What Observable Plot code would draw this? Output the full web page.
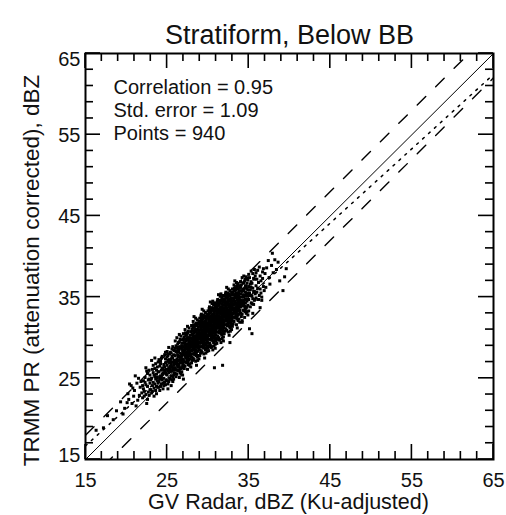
<!DOCTYPE html>
<html><head><meta charset="utf-8">
<script src="https://cdn.jsdelivr.net/npm/d3@7"></script>
<script src="https://cdn.jsdelivr.net/npm/@observablehq/plot@0.6"></script>
<style>
html,body{margin:0;padding:0;background:#fff}
svg{font-family:"Liberation Sans",Arial,Helvetica,sans-serif}
</style>
</head><body><div id="chart"></div>
<script>
const title = "Stratiform, Below BB";
const xLabel = "GV Radar, dBZ (Ku-adjusted)";
const yLabel = "TRMM PR (attenuation corrected), dBZ";
const stats = ["Correlation = 0.95", "Std. error = 1.09", "Points = 940"];
const axisDomain = [15, 65];
const majorTicks = [15, 25, 35, 45, 55, 65];
const minorTicks = [17,19,21,23,27,29,31,33,37,39,41,43,47,49,51,53,57,59,61,63];
const lineEnds = [15, 65];
const dashedOffsets = [3, -3];
const regression = {slope: 0.915, intercept: 2.95};

const tailPts = [[17.7,20.4],[18.8,21.0],[19.8,21.3],[19.3,22.1],[20.2,23.1],[20.6,24.1],[18.4,19.9],[19.6,20.6],[17.2,18.9],[16.3,18.6],
[20.3,22.4],[20.9,22.8],[21.4,22.3],[21.0,23.5],[21.7,23.9],[22.0,22.6],[21.2,21.6],[20.7,21.9],[21.8,24.6],[21.5,25.0],[20.4,24.3],[21.9,23.2],[21.3,24.4],[20.8,23.8],[22.0,24.1],[21.6,22.9],[20.1,22.0],[21.1,25.3]];
const pts22 = [[22.5,21.9],[22.2,23.4],[22.4,24.2],[22.7,24.8],[22.9,23.6],[22.3,25.1],[22.6,25.6],[22.8,22.9],[22.1,24.7],[22.4,23.0],[22.9,25.4],[22.6,24.0],[22.2,22.8],[22.7,23.3],[22.8,26.0],[22.3,24.5],[22.5,25.9],[22.9,24.4],[22.1,23.7],[22.6,22.4],[22.4,26.3],[22.8,24.9],
[23.1,23.2],[23.3,24.5],[23.5,25.2],[23.7,24.0],[23.9,25.8],[23.2,26.1],[23.4,22.8],[23.6,23.5],[23.8,26.4],[23.0,24.8],[23.5,24.3],[23.9,23.9],[23.3,25.7],[23.7,25.5],[23.1,25.0],[23.6,26.8],[23.8,24.7],[23.4,23.8],[23.2,24.1],[23.9,27.0],[23.5,26.2],[23.7,23.1],[23.0,23.6],[23.6,24.9],[23.3,26.6],[23.8,25.1],[23.1,27.2],[23.9,24.4],[23.4,25.4],[23.7,26.0],[23.2,23.4],[23.5,27.5]];
const pts24 = [[24.0,24.6],[24.2,25.3],[24.5,23.7],[24.8,24.2],[24.3,26.0],[24.6,26.7],[24.9,25.5],[24.1,23.5],[24.4,24.8],[24.7,25.9],[24.2,27.1],[24.5,26.3],[24.8,27.4],[24.0,25.8],[24.3,24.3],[24.6,25.0],[24.9,26.1],[24.1,26.5],[24.4,27.7],[24.7,24.5],[24.2,24.0],[24.5,25.6],[24.8,26.9],[24.0,27.3],[24.3,25.1],[24.6,24.1],[24.9,24.8],[24.1,25.2],[24.4,26.2],[24.7,27.9],[24.2,26.8],[24.5,24.4],[24.8,25.7],[24.3,27.5],[24.6,26.0],[24.9,27.0],[24.0,23.9],[24.4,25.5],[24.7,26.4],[24.1,24.9],[25.1,23.7],[24.8,28.2],
[25.0,25.4],[25.2,26.3],[25.4,27.1],[25.6,24.8],[25.8,26.0],[25.1,27.8],[25.3,25.0],[25.5,26.7],[25.7,27.5],[25.9,25.6],[25.0,26.6],[25.2,24.6],[25.4,25.8],[25.6,26.4],[25.8,27.9],[25.1,25.9],[25.3,27.3],[25.5,28.1],[25.7,25.2],[25.9,26.8],[25.0,28.3],[25.2,27.0],[25.4,24.9],[25.6,27.7],[25.8,25.4],[25.1,26.1],[25.3,26.9],[25.5,25.3],[25.7,26.2],[25.9,28.4],[25.0,24.7],[25.2,25.7],[25.4,26.5],[25.6,28.6],[25.8,26.6],[25.1,24.3],[25.3,28.0],[25.5,27.4],[25.7,24.6],[25.9,27.2],[25.0,27.6],[25.2,28.8],[25.4,28.2],[25.6,25.9],[25.8,24.9],[25.3,26.0],[25.5,24.1],[25.7,28.9],[25.9,26.3],[25.1,27.2],[25.4,26.2],[25.6,27.0],[25.8,28.5],[25.2,26.0],[25.7,27.0]];
const pts26 = [[26.0,26.2],[26.2,27.4],[26.4,28.3],[26.6,25.7],[26.8,27.0],[26.1,29.0],[26.3,26.0],[26.5,27.7],[26.7,28.8],[26.9,26.5],[26.0,27.8],[26.2,25.5],[26.4,26.7],[26.6,27.3],[26.8,29.3],[26.1,26.8],[26.3,28.5],[26.5,29.5],[26.7,26.2],[26.9,28.0],[26.0,29.6],[26.2,28.2],[26.4,25.9],[26.6,28.9],[26.8,26.3],[26.1,27.1],[26.3,27.9],[26.5,26.4],[26.7,27.2],[26.9,29.7],[26.0,25.6],[26.2,26.6],[26.4,27.6],[26.6,29.8],[26.8,27.7],[26.1,25.2],[26.3,29.2],[26.5,28.6],[26.7,25.5],[26.9,28.4],[26.0,28.7],[26.2,30.0],[26.4,29.4],[26.6,26.9],[26.8,25.8],[26.3,27.1],[26.5,25.1],[26.7,30.2],[26.9,27.3],[26.1,28.3],[26.4,27.2],[26.6,28.1],[26.8,28.6],[26.2,27.0],[26.7,28.0],[26.5,26.0],[26.9,25.4],[26.0,27.0],[26.3,26.4],[26.6,26.2],[26.8,29.0],[26.4,28.8],[26.1,26.0],[26.7,27.6],[26.2,28.8],[26.9,26.9],[27.0,24.9],[26.5,30.4],
[27.0,27.3],[27.2,28.5],[27.4,29.2],[27.6,26.7],[27.8,28.1],[27.1,30.1],[27.3,27.0],[27.5,28.8],[27.7,29.9],[27.9,27.6],[27.0,28.9],[27.2,26.5],[27.4,27.8],[27.6,28.4],[27.8,30.3],[27.1,27.9],[27.3,29.6],[27.5,30.6],[27.7,27.3],[27.9,29.1],[27.0,30.5],[27.2,29.3],[27.4,26.9],[27.6,30.0],[27.8,27.4],[27.1,28.2],[27.3,28.9],[27.5,27.5],[27.7,28.3],[27.9,30.7],[27.0,26.6],[27.2,27.7],[27.4,28.6],[27.6,30.8],[27.8,28.8],[27.1,26.2],[27.3,30.3],[27.5,29.7],[27.7,26.6],[27.9,29.5],[27.0,29.8],[27.2,31.0],[27.4,30.4],[27.6,27.9],[27.8,26.8],[27.3,28.1],[27.5,26.1],[27.7,31.2],[27.9,28.4],[27.1,29.4],[27.4,28.2],[27.6,29.2],[27.8,29.6],[27.2,28.0],[27.7,29.0],[27.5,27.0],[27.9,26.4],[27.0,28.1],[27.3,27.5],[27.6,27.2],[27.8,30.0],[27.4,29.8],[27.1,27.0],[27.7,28.6],[27.2,29.8],[27.9,27.9],[27.5,31.4],[27.05,28.5],[27.35,29.0],[27.65,29.5],[27.95,28.9],[27.15,28.7],[27.45,27.3],[27.75,27.8],[27.25,30.6],[27.55,28.4],[27.85,29.3],[27.45,30.0],[27.65,28.0],[27.15,29.1]];
const pts28 = [[28.0,28.4],[28.2,29.6],[28.4,30.2],[28.6,27.8],[28.8,29.1],[28.1,31.1],[28.3,28.0],[28.5,29.8],[28.7,30.9],[28.9,28.6],[28.0,29.9],[28.2,27.5],[28.4,28.8],[28.6,29.4],[28.8,31.3],[28.1,28.9],[28.3,30.6],[28.5,31.6],[28.7,28.3],[28.9,30.1],[28.0,31.5],[28.2,30.3],[28.4,27.9],[28.6,31.0],[28.8,28.4],[28.1,29.2],[28.3,29.9],[28.5,28.5],[28.7,29.3],[28.9,31.7],[28.0,27.6],[28.2,28.7],[28.4,29.6],[28.6,31.8],[28.8,29.8],[28.1,27.2],[28.3,31.3],[28.5,30.7],[28.7,27.6],[28.9,30.5],[28.0,30.8],[28.2,32.0],[28.4,31.4],[28.6,28.9],[28.8,27.8],[28.3,29.1],[28.5,27.1],[28.7,32.2],[28.9,29.4],[28.1,30.4],[28.4,29.2],[28.6,30.2],[28.8,30.6],[28.2,29.0],[28.7,30.0],[28.5,28.0],[28.9,27.4],[28.0,29.1],[28.3,28.5],[28.6,28.2],[28.8,31.0],[28.4,30.8],[28.1,28.0],[28.7,29.6],[28.2,30.8],[28.9,28.9],[28.5,32.4],[28.05,29.5],[28.35,30.0],[28.65,30.5],[28.95,29.9],[28.15,29.7],[28.45,28.3],[28.75,28.8],[28.25,31.6],[28.55,29.4],[28.85,30.3],[28.45,31.0],[28.65,29.0],[28.15,30.1],[28.0,26.9],[28.6,26.6],[28.3,32.6],[28.9,32.0],[28.5,29.2],[28.8,29.5],[28.2,31.3],[28.4,28.1],[28.7,31.5],[28.1,28.5],[28.6,29.7],[28.9,30.8],[28.3,27.3],[28.55,30.2],[28.75,27.2],[28.25,29.3],
[29.0,29.3],[29.2,30.5],[29.4,31.3],[29.6,28.7],[29.8,30.0],[29.1,32.0],[29.3,28.9],[29.5,30.7],[29.7,31.8],[29.9,29.5],[29.0,30.9],[29.2,28.4],[29.4,29.7],[29.6,30.3],[29.8,32.2],[29.1,29.8],[29.3,31.5],[29.5,32.5],[29.7,29.2],[29.9,31.0],[29.0,32.4],[29.2,31.2],[29.4,28.8],[29.6,31.9],[29.8,29.3],[29.1,30.1],[29.3,30.8],[29.5,29.4],[29.7,30.2],[29.9,32.6],[29.0,28.5],[29.2,29.6],[29.4,30.5],[29.6,32.7],[29.8,30.7],[29.1,28.1],[29.3,32.2],[29.5,31.6],[29.7,28.5],[29.9,31.4],[29.0,31.7],[29.2,32.9],[29.4,32.3],[29.6,29.8],[29.8,28.7],[29.3,30.0],[29.5,28.0],[29.7,33.1],[29.9,30.3],[29.1,31.3],[29.4,30.1],[29.6,31.1],[29.8,31.5],[29.2,29.9],[29.7,30.9],[29.5,28.9],[29.9,28.3],[29.0,30.0],[29.3,29.4],[29.6,29.1],[29.8,31.9],[29.4,31.7],[29.1,28.9],[29.7,30.5],[29.2,31.7],[29.9,29.8],[29.5,33.3],[29.05,30.4],[29.35,30.9],[29.65,31.4],[29.95,30.8],[29.15,30.6],[29.45,29.2],[29.75,29.7],[29.25,32.5],[29.55,30.3],[29.85,31.2],[29.45,31.9],[29.65,29.9],[29.15,31.0],[29.0,27.8],[29.6,27.5],[29.3,33.5],[29.9,32.9],[29.5,30.1],[29.8,30.4],[29.2,32.2],[29.4,29.0],[29.7,32.4],[29.1,29.4],[29.6,30.6],[29.9,31.7],[29.3,28.2],[29.55,31.1],[29.75,28.1],[29.25,30.2],[29.05,31.5],[29.85,29.0],[29.45,32.8],[29.65,32.0],[29.35,29.6],[29.15,32.7],[29.95,30.1],[29.55,29.5],[29.75,31.3]];
const pts30 = [[30.0,30.2],[30.2,31.4],[30.4,32.2],[30.6,29.6],[30.8,30.9],[30.1,32.9],[30.3,29.8],[30.5,31.6],[30.7,32.7],[30.9,30.4],[30.0,31.8],[30.2,29.3],[30.4,30.6],[30.6,31.2],[30.8,33.1],[30.1,30.7],[30.3,32.4],[30.5,33.4],[30.7,30.1],[30.9,31.9],[30.0,33.3],[30.2,32.1],[30.4,29.7],[30.6,32.8],[30.8,30.2],[30.1,31.0],[30.3,31.7],[30.5,30.3],[30.7,31.1],[30.9,33.5],[30.0,29.4],[30.2,30.5],[30.4,31.4],[30.6,33.6],[30.8,31.6],[30.1,29.0],[30.3,33.1],[30.5,32.5],[30.7,29.4],[30.9,32.3],[30.0,32.6],[30.2,33.8],[30.4,33.2],[30.6,30.7],[30.8,29.6],[30.3,30.9],[30.5,28.9],[30.7,34.0],[30.9,31.2],[30.1,32.2],[30.4,31.0],[30.6,32.0],[30.8,32.4],[30.2,30.8],[30.7,31.8],[30.5,29.8],[30.9,29.2],[30.0,30.9],[30.3,30.3],[30.6,30.0],[30.8,32.8],[30.4,32.6],[30.1,29.8],[30.7,31.4],[30.2,32.6],[30.9,30.7],[30.5,34.2],[30.05,31.3],[30.35,31.8],[30.65,32.3],[30.95,31.7],[30.15,31.5],[30.45,30.1],[30.75,30.6],[30.25,33.4],[30.55,31.2],[30.85,32.1],[30.45,32.8],[30.65,30.8],[30.15,31.9],[30.0,28.7],[30.6,28.5],[30.3,34.4],[30.9,33.8],[30.5,31.0],[30.8,31.3],[30.2,33.1],[30.4,29.9],[30.7,33.3],[30.1,30.3],[30.6,31.5],[30.9,32.6],[30.3,29.1],[30.55,32.0],[30.75,29.0],[30.25,31.1],[30.05,32.4],[30.85,29.9],[30.45,33.7],[30.65,32.9],[30.35,30.5],[30.15,33.6],[30.95,31.0],[30.55,30.4],[30.75,32.2],[30.1,28.4],[30.8,34.3],[30.4,28.8],[30.6,34.5],[30.2,28.9],[30.9,28.7],
[31.0,31.1],[31.2,32.3],[31.4,33.1],[31.6,30.5],[31.8,31.8],[31.1,33.8],[31.3,30.7],[31.5,32.5],[31.7,33.6],[31.9,31.3],[31.0,32.7],[31.2,30.2],[31.4,31.5],[31.6,32.1],[31.8,34.0],[31.1,31.6],[31.3,33.3],[31.5,34.3],[31.7,31.0],[31.9,32.8],[31.0,34.2],[31.2,33.0],[31.4,30.6],[31.6,33.7],[31.8,31.1],[31.1,31.9],[31.3,32.6],[31.5,31.2],[31.7,32.0],[31.9,34.4],[31.0,30.3],[31.2,31.4],[31.4,32.3],[31.6,34.5],[31.8,32.5],[31.1,29.9],[31.3,34.0],[31.5,33.4],[31.7,30.3],[31.9,33.2],[31.0,33.5],[31.2,34.7],[31.4,34.1],[31.6,31.6],[31.8,30.5],[31.3,31.8],[31.5,29.8],[31.7,34.9],[31.9,32.1],[31.1,33.1],[31.4,31.9],[31.6,32.9],[31.8,33.3],[31.2,31.7],[31.7,32.7],[31.5,30.7],[31.9,30.1],[31.0,31.8],[31.3,31.2],[31.6,30.9],[31.8,33.7],[31.4,33.5],[31.1,30.7],[31.7,32.3],[31.2,33.5],[31.9,31.6],[31.5,35.1],[31.05,32.2],[31.35,32.7],[31.65,33.2],[31.95,32.6],[31.15,32.4],[31.45,31.0],[31.75,31.5],[31.25,34.3],[31.55,32.1],[31.85,33.0],[31.45,33.7],[31.65,31.7],[31.15,32.8],[31.0,29.6],[31.6,29.4],[31.3,35.3],[31.9,34.7],[31.5,31.9],[31.8,32.2],[31.2,34.0],[31.4,30.8],[31.7,34.2],[31.1,31.2],[31.6,32.4],[31.9,33.5],[31.3,30.0],[31.55,32.9],[31.75,29.9],[31.25,32.0],[31.05,33.3],[31.85,30.8],[31.45,34.6],[31.65,33.8],[31.35,31.4],[31.15,34.5],[31.95,31.9],[31.55,31.3],[31.75,33.1],[31.1,29.3],[31.8,35.2],[31.4,29.7],[31.6,35.4],[31.2,29.8],[31.9,29.6],[31.8,26.6],[30.8,26.3]];
const pts32 = [[32.0,32.0],[32.2,33.2],[32.4,34.0],[32.6,31.4],[32.8,32.7],[32.1,34.7],[32.3,31.6],[32.5,33.4],[32.7,34.5],[32.9,32.2],[32.0,33.6],[32.2,31.1],[32.4,32.4],[32.6,33.0],[32.8,34.9],[32.1,32.5],[32.3,34.2],[32.5,35.2],[32.7,31.9],[32.9,33.7],[32.0,35.1],[32.2,33.9],[32.4,31.5],[32.6,34.6],[32.8,32.0],[32.1,32.8],[32.3,33.5],[32.5,32.1],[32.7,32.9],[32.9,35.3],[32.0,31.2],[32.2,32.3],[32.4,33.2],[32.6,35.4],[32.8,33.4],[32.1,30.8],[32.3,34.9],[32.5,34.3],[32.7,31.2],[32.9,34.1],[32.0,34.4],[32.2,35.6],[32.4,35.0],[32.6,32.5],[32.8,31.4],[32.3,32.7],[32.5,30.7],[32.7,35.8],[32.9,33.0],[32.1,34.0],[32.4,32.8],[32.6,33.8],[32.8,34.2],[32.2,32.6],[32.7,33.6],[32.5,31.6],[32.9,31.0],[32.0,32.7],[32.3,32.1],[32.6,31.8],[32.8,34.6],[32.4,34.4],[32.1,31.6],[32.7,33.2],[32.2,34.4],[32.9,32.5],[32.5,36.0],[32.05,33.1],[32.35,33.6],[32.65,34.1],[32.95,33.5],[32.15,33.3],[32.45,31.9],[32.75,32.4],[32.25,35.2],[32.55,33.0],[32.85,33.9],[32.45,34.6],[32.65,32.6],[32.15,33.7],[32.0,30.5],[32.6,30.3],[32.3,36.2],[32.9,35.6],[32.5,32.8],[32.8,33.1],[32.2,34.9],[32.4,31.7],[32.7,35.1],[32.1,32.1],[32.6,33.3],[32.9,34.4],[32.3,30.9],[32.55,33.8],[32.75,30.8],[32.25,32.9],[32.05,34.2],[32.85,31.7],[32.45,35.5],[32.65,34.7],[32.35,32.3],[32.15,35.4],[32.95,32.8],[32.55,32.2],[32.75,34.0],[32.7,29.4],
[33.0,32.9],[33.2,34.1],[33.4,34.9],[33.6,32.3],[33.8,33.6],[33.1,35.6],[33.3,32.5],[33.5,34.3],[33.7,35.4],[33.9,33.1],[33.0,34.5],[33.2,32.0],[33.4,33.3],[33.6,33.9],[33.8,35.8],[33.1,33.4],[33.3,35.1],[33.5,36.1],[33.7,32.8],[33.9,34.6],[33.0,36.0],[33.2,34.8],[33.4,32.4],[33.6,35.5],[33.8,32.9],[33.1,33.7],[33.3,34.4],[33.5,33.0],[33.7,33.8],[33.9,36.2],[33.0,32.1],[33.2,33.2],[33.4,34.1],[33.6,36.3],[33.8,34.3],[33.1,31.7],[33.3,35.8],[33.5,35.2],[33.7,32.1],[33.9,35.0],[33.0,35.3],[33.2,36.5],[33.4,35.9],[33.6,33.4],[33.8,32.3],[33.3,33.6],[33.5,31.6],[33.7,36.6],[33.9,33.9],[33.1,34.9],[33.4,33.7],[33.6,34.7],[33.8,35.1],[33.2,33.5],[33.7,34.5],[33.5,32.5],[33.9,31.9],[33.0,33.6],[33.3,33.0],[33.6,32.7],[33.8,35.5],[33.4,35.3],[33.1,32.5],[33.7,34.1],[33.2,35.3],[33.9,33.4],[33.5,36.8],[33.05,34.0],[33.35,34.5],[33.65,35.0],[33.95,34.4],[33.15,34.2],[33.45,32.8],[33.75,33.3],[33.25,36.1],[33.55,33.9],[33.85,34.8],[33.45,35.5],[33.65,33.5],[33.15,34.6],[33.0,31.4],[33.6,31.2],[33.3,37.0],[33.9,36.4],[33.5,33.7],[33.8,34.0],[33.2,35.8],[33.4,32.6],[33.7,36.0],[33.1,33.0]];
const pts34 = [[34.0,33.8],[34.2,35.0],[34.4,35.8],[34.6,33.2],[34.8,34.5],[34.1,36.5],[34.3,33.4],[34.5,35.2],[34.7,36.3],[34.9,34.0],[34.0,35.4],[34.2,32.9],[34.4,34.2],[34.6,34.8],[34.8,36.7],[34.1,34.3],[34.3,36.0],[34.5,37.0],[34.7,33.7],[34.9,35.5],[34.0,36.9],[34.2,35.7],[34.4,33.3],[34.6,36.4],[34.8,33.8],[34.1,34.6],[34.3,35.3],[34.5,33.9],[34.7,34.7],[34.9,37.1],[34.0,33.0],[34.2,34.1],[34.4,35.0],[34.6,37.2],[34.8,35.2],[34.1,32.6],[34.3,36.7],[34.5,36.1],[34.7,33.0],[34.9,35.9],[34.0,36.2],[34.2,37.4],[34.4,36.8],[34.6,34.3],[34.8,33.2],[34.3,34.5],[34.5,32.5],[34.7,37.5],[34.9,34.8],[34.1,35.8],[34.4,34.6],[34.6,35.6],[34.8,36.0],[34.2,34.4],[34.7,35.4],[34.5,33.4],[34.9,32.8],[34.0,34.5],[34.3,33.9],[34.6,33.6],[34.2,31.9],[34.2,32.1],[34.8,37.3],[34.4,37.6],
[35.0,34.7],[35.2,35.9],[35.4,36.7],[35.6,34.1],[35.8,35.4],[35.1,37.4],[35.3,34.3],[35.5,36.1],[35.7,37.2],[35.9,34.9],[35.0,36.3],[35.2,33.8],[35.4,35.1],[35.6,35.7],[35.8,37.6],[35.1,35.2],[35.3,36.9],[35.5,37.9],[35.7,34.6],[35.9,36.4],[35.0,37.8],[35.2,36.6],[35.4,34.2],[35.6,37.3],[35.8,34.7],[35.1,35.5],[35.3,36.2],[35.5,34.8],[35.7,35.6],[35.9,38.0],[35.4,30.5],[35.1,31.1],[35.5,33.0],[35.0,33.3],[35.3,38.2],[35.7,38.4]];
const headPts = [[36.0,35.6],[36.2,36.8],[36.4,37.6],[36.6,35.0],[36.8,36.3],[36.1,38.3],[36.3,35.2],[36.5,37.0],[36.7,38.1],[36.9,35.8],[36.0,37.2],[36.2,34.7],[36.4,36.0],[36.6,34.6],[36.4,33.7],[36.8,38.5],[36.3,38.7],[36.7,37.3],[36.1,36.1],[36.5,35.5],
[37.2,38.6],[37.9,40.4],[38.2,39.6],[38.6,39.3],[38.0,38.0],[39.6,38.5],[39.4,37.5],[38.8,37.0],[39.2,35.8],[37.5,37.4],[37.1,36.2],[37.8,38.9],[37.4,39.5],[38.4,38.4],[37.0,37.9],[37.6,36.6]];

const points = [...tailPts, ...pts22, ...pts24, ...pts26, ...pts28, ...pts30, ...pts32, ...pts34, ...headPts];

const W = 506, H = 515;
const mL = 85, mR = 13, mT = 53, mB = 56;
const iW = W - mL - mR, iH = H - mT - mB;
const majorLen = 15, minorLen = 8;   // tick lengths in px
const tickW = 1.6;                   // tick thickness in px
const fs = 20;
const [lo, hi] = axisDomain;
const pxX = (hi - lo) / iW, pxY = (hi - lo) / iH;  // data units per pixel

// tick rectangles derived from the tick arrays (inward, all four sides)
const tickRectsX = [];
const tickRectsY = [];
for (const [vals, len] of [[majorTicks, majorLen], [minorTicks, minorLen]]) {
  for (const t of vals) {
    tickRectsX.push({t, a: lo, b: lo + len * pxY});
    tickRectsX.push({t, a: hi - len * pxY, b: hi});
    tickRectsY.push({t, a: lo, b: lo + len * pxX});
    tickRectsY.push({t, a: hi - len * pxX, b: hi});
  }
}
const hwX = tickW / 2 * pxX, hwY = tickW / 2 * pxY;

const chart = Plot.plot({
  width: W, height: H,
  marginLeft: mL, marginRight: mR, marginTop: mT, marginBottom: mB,
  x: {domain: axisDomain, axis: null},
  y: {domain: axisDomain, axis: null},
  marks: [
    Plot.dot(points, {x: d => d[0], y: d => d[1], symbol: "square", r: 1.7, fill: "black", stroke: "none"}),
    Plot.line(lineEnds, {x: d => d, y: d => d, stroke: "black", strokeWidth: 1, clip: true}),
    ...dashedOffsets.map(o => Plot.line(lineEnds, {x: d => d, y: d => d + o, stroke: "black", strokeWidth: 1.4, strokeDasharray: "12,14", clip: true})),
    Plot.line(lineEnds, {x: d => d, y: d => regression.slope * d + regression.intercept, stroke: "black", strokeWidth: 1.5, strokeDasharray: "2,6", clip: true}),
    Plot.rect(tickRectsX, {x1: d => d.t - hwX, x2: d => d.t + hwX, y1: "a", y2: "b", fill: "black"}),
    Plot.rect(tickRectsY, {y1: d => d.t - hwY, y2: d => d.t + hwY, x1: "a", x2: "b", fill: "black"}),
    Plot.frame({stroke: "black", strokeWidth: 2}),
    Plot.text(majorTicks, {x: d => d, frameAnchor: "bottom", textAnchor: "middle", lineAnchor: "top", dy: 13, fontSize: fs, fill: "#111"}),
    Plot.text(majorTicks.filter(d => d > lo && d < hi), {y: d => d, frameAnchor: "left", textAnchor: "end", dx: -5, dy: 1, fontSize: fs, fill: "#111"}),
    Plot.text([hi], {y: d => d, frameAnchor: "left", textAnchor: "end", dx: -5, dy: 6, fontSize: fs, fill: "#111"}),
    Plot.text([lo], {y: d => d, frameAnchor: "left", textAnchor: "end", dx: -5, dy: -4, fontSize: fs, fill: "#111"}),
    Plot.text([stats.join("\n")], {frameAnchor: "top-left", textAnchor: "start", lineAnchor: "top", dx: 28, dy: 24, lineHeight: 1.16, fontSize: 20, fill: "#111"}),
    Plot.text([title], {frameAnchor: "top", textAnchor: "middle", lineAnchor: "bottom", dy: -10, fontSize: 27, fill: "#111"}),
    Plot.text([xLabel], {frameAnchor: "bottom", textAnchor: "middle", lineAnchor: "bottom", dy: 49, dx: -1, fontSize: 21.5, fill: "#111"}),
    Plot.text([yLabel], {frameAnchor: "left", textAnchor: "middle", lineAnchor: "middle", rotate: -90, dx: -54, dy: 14, fontSize: 22.5, fill: "#111"})
  ]
});
document.getElementById("chart").appendChild(chart);
</script>
</body></html>
